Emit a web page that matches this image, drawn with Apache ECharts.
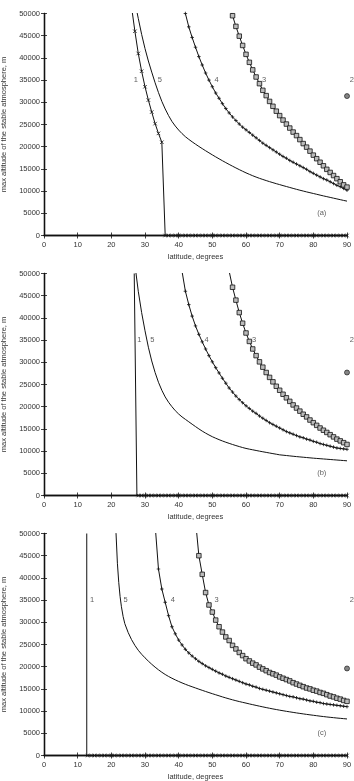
<!DOCTYPE html>
<html lang="en">
<head>
<meta charset="UTF-8">
<title>max altitude of the stable atmosphere</title>
<script src="https://cdn.jsdelivr.net/npm/echarts@6/dist/echarts.min.js"></script>
<style>
  html, body { margin: 0; padding: 0; background: #fff; }
  #chart { width: 354px; height: 781px; }
</style>
</head>
<body>
<div id="chart"></div>
<script>
// ---- data (latitude in degrees, altitude in m) ----
// curve 1: one value per degree starting at c1aStart
const c1aStart = 26;
const c1aAlt = [51500, 46000, 41000, 37000, 33500, 30500, 27800, 25200, 23000, 21000,
  0, 0, 0, 0, 0, 0, 0, 0, 0, 0,
  0, 0, 0, 0, 0, 0, 0, 0, 0, 0,
  0, 0, 0, 0, 0, 0, 0, 0, 0, 0,
  0, 0, 0, 0, 0, 0, 0, 0, 0, 0,
  0, 0, 0, 0, 0, 0, 0, 0, 0, 0,
  0, 0, 0, 0, 0];
const c1bDrop = [[26.8, 50000], [27.6, 0]];
const c1bStart = 28;
const c1bAlt = [0, 0, 0, 0, 0, 0, 0, 0, 0, 0,
  0, 0, 0, 0, 0, 0, 0, 0, 0, 0,
  0, 0, 0, 0, 0, 0, 0, 0, 0, 0,
  0, 0, 0, 0, 0, 0, 0, 0, 0, 0,
  0, 0, 0, 0, 0, 0, 0, 0, 0, 0,
  0, 0, 0, 0, 0, 0, 0, 0, 0, 0,
  0, 0, 0];
const c1cDrop = [[12.7, 50000], [12.7, 0]];
const c1cStart = 13;
const c1cAlt = [0, 0, 0, 0, 0, 0, 0, 0, 0, 0,
  0, 0, 0, 0, 0, 0, 0, 0, 0, 0,
  0, 0, 0, 0, 0, 0, 0, 0, 0, 0,
  0, 0, 0, 0, 0, 0, 0, 0, 0, 0,
  0, 0, 0, 0, 0, 0, 0, 0, 0, 0,
  0, 0, 0, 0, 0, 0, 0, 0, 0, 0,
  0, 0, 0, 0, 0, 0, 0, 0, 0, 0,
  0, 0, 0, 0, 0, 0, 0, 0];

// curve 2: single point at the pole
const c2Lat = 90;
const c2Alt = [31400, 27700, 19600];

// curve 3: one value per degree
const c3aStart = 55;
const c3aAlt = [52000, 49500, 47100, 44900, 42800, 40800, 39000, 37300, 35700, 34200,
  32700, 31500, 30200, 29100, 28000, 27000, 26000, 25100, 24200, 23300,
  22500, 21600, 20700, 19900, 19000, 18100, 17300, 16500, 15700, 14900,
  14200, 13500, 12800, 12100, 11400, 10900];
const c3bStart = 55;
const c3bAlt = [50500, 46900, 44000, 41200, 38800, 36600, 34700, 33000, 31500, 30100,
  28900, 27700, 26600, 25600, 24600, 23700, 22800, 22000, 21200, 20400,
  19700, 19000, 18300, 17700, 17000, 16400, 15800, 15200, 14700, 14200,
  13700, 13200, 12700, 12300, 11900, 11500];
const c3cStart = 45;
const c3cAlt = [53000, 45000, 40800, 36700, 33900, 32300, 30500, 29000, 27800, 26700,
  25900, 24800, 24000, 23200, 22500, 21800, 21300, 20800, 20400, 19900,
  19500, 19100, 18700, 18400, 18100, 17700, 17400, 17100, 16800, 16400,
  16100, 15800, 15500, 15200, 15000, 14700, 14500, 14200, 14000, 13700,
  13400, 13200, 12900, 12700, 12400, 12200];

// curve 4: one value per degree
const c4aStart = 42;
const c4aAlt = [50000, 47000, 44600, 42400, 40300, 38400, 36600, 35000, 33500, 32100,
  30900, 29700, 28600, 27600, 26700, 25900, 25100, 24400, 23800, 23200,
  22600, 22000, 21400, 20800, 20300, 19800, 19300, 18800, 18300, 17800,
  17400, 16900, 16500, 16100, 15700, 15300, 14900, 14400, 14000, 13600,
  13200, 12800, 12500, 12100, 11700, 11300, 11000, 10600, 10200];
const c4bStart = 41;
const c4bAlt = [50500, 46000, 43000, 40400, 38200, 36300, 34600, 33000, 31500, 30100,
  28800, 27600, 26400, 25300, 24200, 23300, 22400, 21600, 20900, 20200,
  19600, 19000, 18500, 17900, 17400, 16900, 16400, 16000, 15600, 15200,
  14800, 14400, 14100, 13800, 13500, 13200, 13000, 12700, 12500, 12200,
  12000, 11700, 11500, 11300, 11100, 10900, 10700, 10600, 10500, 10400];
const c4cStart = 33;
const c4cAlt = [52000, 42000, 37500, 34500, 31500, 29000, 27400, 26000, 24900, 23900,
  23100, 22400, 21800, 21200, 20700, 20200, 19800, 19400, 19000, 18600,
  18300, 17900, 17600, 17300, 17000, 16700, 16400, 16100, 15900, 15600,
  15400, 15100, 14900, 14700, 14500, 14300, 14100, 13900, 13700, 13500,
  13300, 13200, 13000, 12800, 12700, 12500, 12300, 12200, 12000, 11900,
  11700, 11600, 11500, 11400, 11300, 11200, 11100, 11000];

// curve 5: plain line, one value per degree
const c5aStart = 27;
const c5aAlt = [52600, 48900, 45300, 42100, 39300, 36800, 34400, 32200, 30200, 28500,
  27000, 25700, 24650, 23750, 22950, 22250, 21650, 21100, 20570, 20060,
  19570, 19090, 18620, 18160, 17710, 17270, 16840, 16420, 16010, 15610,
  15220, 14840, 14470, 14110, 13780, 13460, 13160, 12880, 12620, 12370,
  12130, 11900, 11670, 11460, 11240, 11030, 10820, 10610, 10400, 10200,
  10010, 9820, 9640, 9460, 9280, 9100, 8920, 8750, 8580, 8410,
  8240, 8070, 7900, 7740];
const c5bStart = 27;
const c5bAlt = [52000, 46000, 41200, 37100, 33400, 30300, 27700, 25500, 23700, 22200,
  21000, 20000, 19100, 18350, 17700, 17150, 16600, 16060, 15520, 15000,
  14500, 14050, 13630, 13240, 12900, 12580, 12280, 12000, 11740, 11490,
  11250, 11020, 10800, 10600, 10440, 10290, 10140, 9990, 9850, 9710,
  9570, 9430, 9300, 9160, 9080, 9000, 8920, 8840, 8760, 8690,
  8620, 8550, 8480, 8410, 8350, 8290, 8230, 8170, 8110, 8050,
  7990, 7930, 7870, 7810];
// steep top of curve 5 in (c), then one value per degree from 24
const c5cTopLat = [21.2, 21.4, 21.8, 22.2, 22.6, 23, 23.5];
const c5cTopAlt = [53000, 50000, 43300, 39000, 35800, 33500, 31300];
const c5cStart = 24;
const c5cAlt = [29700, 27700, 26100, 24800, 23700, 22800, 22000, 21250, 20550, 19900,
  19300, 18750, 18250, 17800, 17400, 17030, 16680, 16350, 16040, 15750,
  15480, 15210, 14940, 14680, 14420, 14170, 13920, 13680, 13440, 13200,
  12970, 12750, 12540, 12340, 12150, 11970, 11800, 11620, 11450, 11280,
  11110, 10950, 10790, 10640, 10490, 10350, 10210, 10080, 9950, 9830,
  9710, 9590, 9480, 9370, 9260, 9160, 9060, 8960, 8860, 8770,
  8680, 8600, 8520, 8440, 8370, 8300, 8230];

// curve number labels (text, latitude) at the 35000 m level
const labelAlt = 35000;
const labelsA = [['1', 27.3], ['5', 34.4], ['4', 51.3], ['3', 65.4], ['2', 91.4]];
const labelsB = [['1', 28.3], ['5', 32.2], ['4', 48.3], ['3', 62.4], ['2', 91.4]];
const labelsC = [['1', 14.3], ['5', 24.2], ['4', 38.3], ['3', 51.3], ['2', 91.4]];
const panelNames = ['(a)', '(b)', '(c)'];
const panelTagPos = [82.5, 5000];

const yMax = 50000, yStep = 5000;

// ---- chart ----
const FONT = 'Liberation Sans, Arial, sans-serif';
const INK = '#111';
const X_MARK = 'path://M0,0L10,10M10,0L0,10';
const PLUS = 'path://M5,0L5,10M0,5L10,5';

function seq(start, vals) {
  return vals.map((v, i) => [start + i, v]);
}
function pairs(lats, alts) {
  return lats.map((l, i) => [l, alts[i]]);
}
function noSym(pts) {
  return pts.map(p => ({ value: p, symbol: 'none' }));
}

const grids = [], xAxes = [], yAxes = [], series = [];
const tops = [13.5, 273.5, 533.5];

tops.forEach((t, g) => {
  grids.push({ left: 44, top: t, width: 303, height: 222, outerBoundsMode: 'none', containLabel: false });
  const axisLine = { show: true, lineStyle: { color: INK, width: 1.3 } };
  const tick = { show: true, inside: true, length: 3, lineStyle: { color: INK, width: 0.8 } };
  xAxes.push({
    gridIndex: g, type: 'value', min: 0, max: 90, interval: 10,
    axisLine: axisLine, axisTick: tick, splitLine: { show: false },
    axisLabel: { fontSize: 7.5, color: '#333', margin: 5, fontFamily: FONT },
    name: 'latitude, degrees', nameLocation: 'middle', nameGap: 17,
    nameTextStyle: { fontSize: 7.5, color: '#333', fontFamily: FONT }
  });
  xAxes.push({
    gridIndex: g, type: 'value', min: 0, max: 90, interval: 10, position: 'top',
    axisLine: axisLine, axisTick: tick, splitLine: { show: false }, axisLabel: { show: false }
  });
  yAxes.push({
    gridIndex: g, type: 'value', min: 0, max: yMax, interval: yStep,
    axisLine: axisLine, axisTick: tick, splitLine: { show: false },
    axisLabel: {
      fontSize: 7.5, color: '#333', margin: 4, fontFamily: FONT,
      formatter: v => String(v)
    },
    name: 'max altitude of the stable atmosphere, m', nameLocation: 'middle',
    nameGap: 32, nameRotate: 90,
    nameTextStyle: { fontSize: 7.5, color: '#333', fontFamily: FONT }
  });
  yAxes.push({
    gridIndex: g, type: 'value', min: 0, max: yMax, interval: yStep, position: 'right',
    axisLine: axisLine, axisTick: tick, splitLine: { show: false }, axisLabel: { show: false }
  });
});

function line(g, data, symbol, size, fill) {
  return {
    type: 'line', xAxisIndex: g * 2, yAxisIndex: g * 2, data: data,
    symbol: symbol, symbolSize: size, showAllSymbol: true, animation: false,
    lineStyle: { color: INK, width: 1 },
    itemStyle: { color: fill, borderColor: INK, borderWidth: 0.8 },
    emphasis: { disabled: true }, clip: true
  };
}

const c1 = [
  seq(c1aStart, c1aAlt),
  noSym(c1bDrop).concat(seq(c1bStart, c1bAlt)),
  noSym(c1cDrop).concat(seq(c1cStart, c1cAlt))
];
const c3 = [seq(c3aStart, c3aAlt), seq(c3bStart, c3bAlt), seq(c3cStart, c3cAlt)];
const c4 = [seq(c4aStart, c4aAlt), seq(c4bStart, c4bAlt), seq(c4cStart, c4cAlt)];
const c5 = [
  seq(c5aStart, c5aAlt),
  seq(c5bStart, c5bAlt),
  pairs(c5cTopLat, c5cTopAlt).concat(seq(c5cStart, c5cAlt))
];
const labels = [labelsA, labelsB, labelsC];

for (let g = 0; g < 3; g++) {
  series.push(line(g, c5[g], 'none', 0, INK));
  series.push(line(g, c4[g], PLUS, 3.5, 'none'));
  series.push(line(g, c3[g], 'rect', 4.5, '#bbb'));
  series.push(line(g, c1[g], X_MARK, 3.5, 'none'));
  series.push({
    type: 'scatter', xAxisIndex: g * 2, yAxisIndex: g * 2, animation: false,
    data: [[c2Lat, c2Alt[g]]], symbol: 'circle', symbolSize: 5, clip: false,
    itemStyle: { color: '#666', borderColor: INK, borderWidth: 0.8 }
  });
  const txt = labels[g].map(l => ({ name: l[0], value: [l[1], labelAlt] }))
    .concat([{ name: panelNames[g], value: panelTagPos }]);
  series.push({
    type: 'scatter', xAxisIndex: g * 2, yAxisIndex: g * 2, animation: false,
    data: txt, symbolSize: 0, clip: false, silent: true,
    label: {
      show: true, position: 'inside', formatter: '{b}',
      fontSize: 7.5, color: '#333', fontFamily: FONT
    }
  });
}

const chart = echarts.init(document.getElementById('chart'));
chart.setOption({
  backgroundColor: '#fff',
  grid: grids, xAxis: xAxes, yAxis: yAxes, series: series
});
</script>
</body>
</html>
